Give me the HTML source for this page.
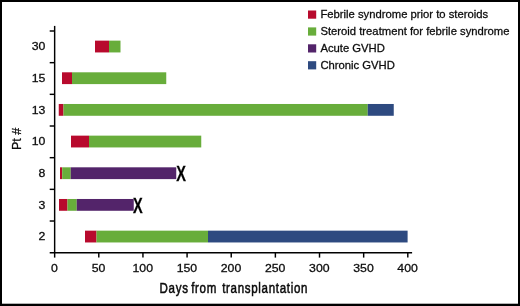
<!DOCTYPE html>
<html><head><meta charset="utf-8"><title>Figure</title>
<style>
html,body{margin:0;padding:0;background:#fff;}
body{width:520px;height:306px;overflow:hidden;}
svg{display:block;}
text{font-family:"Liberation Sans",Arial,Helvetica,sans-serif;fill:#0c0c0c;stroke:#0c0c0c;stroke-width:0.28px;}
</style></head><body>
<svg width="520" height="306" viewBox="0 0 520 306">
<rect x="0" y="0" width="520" height="306" fill="#000"/>
<rect x="2" y="2" width="516" height="301.7" fill="#fff"/>
<rect x="95.00" y="40.64" width="14.00" height="11.8" fill="#b80a2d"/>
<rect x="109.00" y="40.64" width="11.50" height="11.8" fill="#68ad3b"/>
<text transform="translate(45.4,50.23) scale(1.06,1)" font-size="11.6" text-anchor="end">30</text>
<rect x="62.00" y="72.30" width="10.00" height="11.8" fill="#b80a2d"/>
<rect x="72.00" y="72.30" width="94.25" height="11.8" fill="#68ad3b"/>
<text transform="translate(45.4,81.91) scale(1.06,1)" font-size="11.6" text-anchor="end">15</text>
<rect x="58.75" y="103.98" width="4.75" height="11.8" fill="#b80a2d"/>
<rect x="63.50" y="103.98" width="304.25" height="11.8" fill="#68ad3b"/>
<rect x="367.75" y="103.98" width="26.00" height="11.8" fill="#2e4a80"/>
<text transform="translate(45.4,113.58) scale(1.06,1)" font-size="11.6" text-anchor="end">13</text>
<rect x="71.00" y="135.64" width="18.00" height="11.8" fill="#b80a2d"/>
<rect x="89.00" y="135.64" width="112.25" height="11.8" fill="#68ad3b"/>
<text transform="translate(45.4,145.25) scale(1.06,1)" font-size="11.6" text-anchor="end">10</text>
<rect x="60.00" y="167.31" width="2.20" height="11.8" fill="#b80a2d"/>
<rect x="62.20" y="167.31" width="8.55" height="11.8" fill="#68ad3b"/>
<rect x="70.75" y="167.31" width="105.50" height="11.8" fill="#53246a"/>
<text transform="translate(45.4,176.92) scale(1.06,1)" font-size="11.6" text-anchor="end">8</text>
<rect x="59.00" y="198.98" width="8.50" height="11.8" fill="#b80a2d"/>
<rect x="67.50" y="198.98" width="9.25" height="11.8" fill="#68ad3b"/>
<rect x="76.75" y="198.98" width="57.00" height="11.8" fill="#53246a"/>
<text transform="translate(45.4,208.59) scale(1.06,1)" font-size="11.6" text-anchor="end">3</text>
<rect x="85.00" y="230.66" width="11.50" height="11.8" fill="#b80a2d"/>
<rect x="96.50" y="230.66" width="111.50" height="11.8" fill="#68ad3b"/>
<rect x="208.00" y="230.66" width="199.60" height="11.8" fill="#2e4a80"/>
<text transform="translate(45.4,240.26) scale(1.06,1)" font-size="11.6" text-anchor="end">2</text>
<g stroke="#000" stroke-width="1.45" fill="none">
<line x1="54.65" y1="25.9" x2="54.65" y2="257.6"/>
<line x1="49.7" y1="252.69" x2="412.1" y2="252.69"/>
<line x1="49.7" y1="31.00" x2="54.65" y2="31.00"/>
<line x1="49.7" y1="62.67" x2="54.65" y2="62.67"/>
<line x1="49.7" y1="94.34" x2="54.65" y2="94.34"/>
<line x1="49.7" y1="126.01" x2="54.65" y2="126.01"/>
<line x1="49.7" y1="157.68" x2="54.65" y2="157.68"/>
<line x1="49.7" y1="189.35" x2="54.65" y2="189.35"/>
<line x1="49.7" y1="221.02" x2="54.65" y2="221.02"/>
<line x1="98.79" y1="252.69" x2="98.79" y2="257.6"/>
<line x1="142.94" y1="252.69" x2="142.94" y2="257.6"/>
<line x1="187.08" y1="252.69" x2="187.08" y2="257.6"/>
<line x1="231.23" y1="252.69" x2="231.23" y2="257.6"/>
<line x1="275.37" y1="252.69" x2="275.37" y2="257.6"/>
<line x1="319.51" y1="252.69" x2="319.51" y2="257.6"/>
<line x1="363.66" y1="252.69" x2="363.66" y2="257.6"/>
<line x1="407.80" y1="252.69" x2="407.80" y2="257.6"/>
</g>
<text transform="translate(54.45,272.2) scale(1.06,1)" font-size="11.6" text-anchor="middle">0</text>
<text transform="translate(98.59,272.2) scale(1.06,1)" font-size="11.6" text-anchor="middle">50</text>
<text transform="translate(142.74,272.2) scale(1.06,1)" font-size="11.6" text-anchor="middle">100</text>
<text transform="translate(186.88,272.2) scale(1.06,1)" font-size="11.6" text-anchor="middle">150</text>
<text transform="translate(231.03,272.2) scale(1.06,1)" font-size="11.6" text-anchor="middle">200</text>
<text transform="translate(275.17,272.2) scale(1.06,1)" font-size="11.6" text-anchor="middle">250</text>
<text transform="translate(319.31,272.2) scale(1.06,1)" font-size="11.6" text-anchor="middle">300</text>
<text transform="translate(363.46,272.2) scale(1.06,1)" font-size="11.6" text-anchor="middle">350</text>
<text transform="translate(407.60,272.2) scale(1.06,1)" font-size="11.6" text-anchor="middle">400</text>
<text transform="translate(181.2,181.3) scale(0.66,1)" font-size="22" font-weight="bold" text-anchor="middle" style="fill:#000">X</text>
<text transform="translate(137.9,212.9) scale(0.66,1)" font-size="22" font-weight="bold" text-anchor="middle" style="fill:#000">X</text>
<text transform="translate(160.0,292.8) scale(0.76,1)" font-size="15.2" style="stroke-width:0.55px;letter-spacing:0.9px"><tspan x="-0.53">Days</tspan> <tspan x="41.05">from</tspan> <tspan x="81.84">transplantation</tspan></text>
<text transform="translate(21.3,150.1) rotate(-90)" font-size="12.5">Pt #</text>
<rect x="308" y="10.50" width="8.2" height="8.2" fill="#b80a2d"/>
<text x="320.4" y="18.10" font-size="11.28">Febrile syndrome prior to steroids</text>
<rect x="308" y="27.40" width="8.2" height="8.2" fill="#68ad3b"/>
<text x="320.4" y="35.00" font-size="11.28">Steroid treatment for febrile syndrome</text>
<rect x="308" y="44.30" width="8.2" height="8.2" fill="#53246a"/>
<text x="320.4" y="51.90" font-size="11.28">Acute GVHD</text>
<rect x="308" y="61.20" width="8.2" height="8.2" fill="#2e4a80"/>
<text x="320.4" y="68.80" font-size="11.28">Chronic GVHD</text>
</svg>
</body></html>
